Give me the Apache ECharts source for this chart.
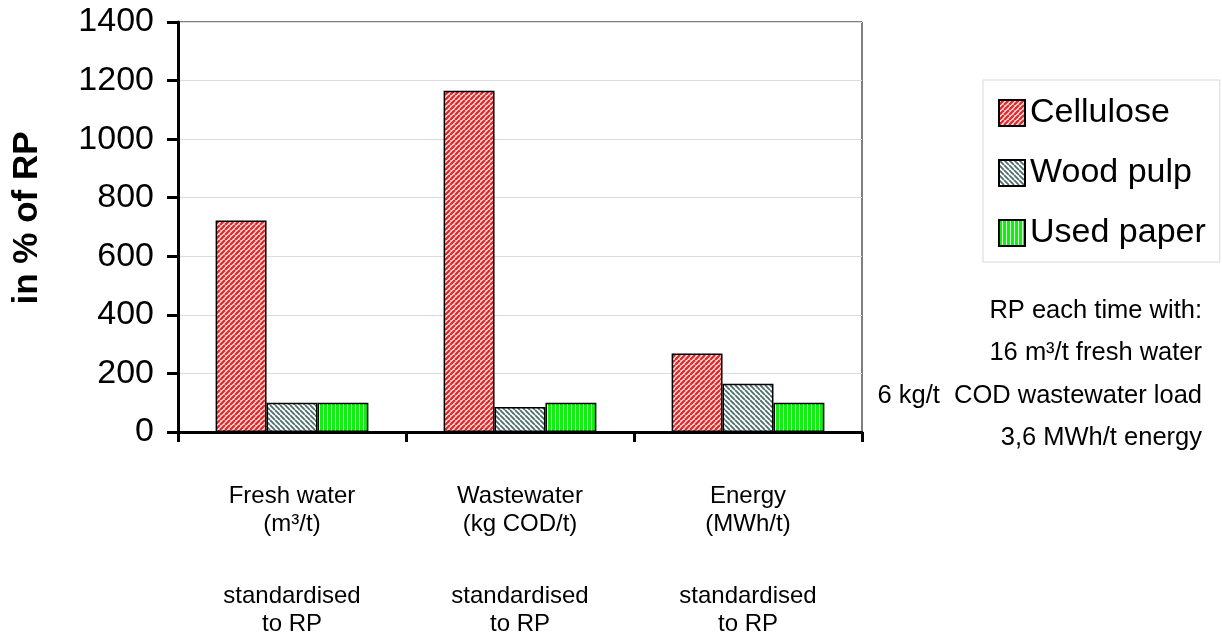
<!DOCTYPE html>
<html>
<head>
<meta charset="utf-8">
<script src="https://cdn.jsdelivr.net/npm/echarts@6/dist/echarts.min.js"></script>
<style>
html,body{margin:0;padding:0;background:#fff;}
#chart{width:1222px;height:639px;}
</style>
</head>
<body>
<div id="chart"></div>
<script>
const categories = [
  "Fresh water\n(m³/t)\n\nstandardised\nto RP",
  "Wastewater\n(kg COD/t)\n\nstandardised\nto RP",
  "Energy\n(MWh/t)\n\nstandardised\nto RP"
];
const seriesNames = ["Cellulose", "Wood pulp", "Used paper"];
const cellulose = [722, 1165, 268];
const woodPulp = [100, 85, 165];
const usedPaper = [100, 100, 100];
const yTicks = { min: 0, max: 1400, interval: 200 };
const notes = [
  "RP each time with:",
  "16 m³/t fresh water",
  "6 kg/t  COD wastewater load",
  "3,6 MWh/t energy"
];

const FONT = "'Liberation Sans', Arial, sans-serif";

function diagPattern(fg, bg, size, lw, dir) {
  const c = document.createElement('canvas');
  c.width = size; c.height = size;
  const g = c.getContext('2d');
  g.fillStyle = bg; g.fillRect(0, 0, size, size);
  g.strokeStyle = fg; g.lineWidth = lw;
  g.beginPath();
  for (let k = -1; k <= 1; k++) {
    if (dir > 0) {
      g.moveTo(k * size, size); g.lineTo(k * size + size, 0);
    } else {
      g.moveTo(k * size, 0); g.lineTo(k * size + size, size);
    }
  }
  g.stroke();
  return c;
}
function vertPattern(fg, bg, size, lw) {
  const c = document.createElement('canvas');
  c.width = size; c.height = size;
  const g = c.getContext('2d');
  g.fillStyle = fg; g.fillRect(0, 0, size, size);
  g.fillStyle = bg; g.fillRect(size - lw, 0, lw, size);
  return c;
}

const patterns = [
  { image: diagPattern('#e02626', '#ffdcdc', 5, 2.2, 1), repeat: 'repeat' },
  { image: diagPattern('#4e6e6c', '#ffffff', 5, 1.8, -1), repeat: 'repeat' },
  { image: vertPattern('#10f010', '#d8ffd8', 4, 1), repeat: 'repeat' }
];
const dataSets = [cellulose, woodPulp, usedPaper];

const chart = echarts.init(document.getElementById('chart'), null, { renderer: 'canvas' });

const option = {
  backgroundColor: '#ffffff',
  animation: false,
  grid: {
    left: 178, top: 22, right: 360, bottom: 207,
    show: true, borderColor: '#000', borderWidth: 1, backgroundColor: 'transparent'
  },
  legend: {
    orient: 'vertical',
    left: 983, top: 80,
    padding: [13, 14, 9, 15],
    itemWidth: 26, itemHeight: 26, itemGap: 20, itemTextGap: 7,
    borderColor: '#d8d8d8', borderWidth: 1,
    icon: 'rect',
    textStyle: { fontFamily: FONT, fontSize: 34, color: '#000', lineHeight: 40 },
    data: seriesNames
  },
  xAxis: {
    type: 'category',
    data: categories,
    axisLine: { lineStyle: { color: '#000', width: 3 } },
    axisTick: { show: true, length: 10, lineStyle: { color: '#000', width: 3 } },
    axisLabel: {
      interval: 0, margin: 50,
      color: '#000', align: 'center',
      formatter: function (v) {
        return v.split('\n').map(l => l === '' ? '{g| }' : '{a|' + l + '}').join('\n');
      },
      rich: {
        a: { fontFamily: FONT, fontSize: 24, lineHeight: 28, color: '#000' },
        g: { fontFamily: FONT, fontSize: 10, lineHeight: 44 }
      }
    },
    splitLine: { show: false }
  },
  yAxis: {
    type: 'value',
    min: yTicks.min, max: yTicks.max, interval: yTicks.interval,
    name: 'in % of RP',
    nameLocation: 'middle',
    nameRotate: 90,
    nameGap: 133,
    nameTextStyle: { fontFamily: FONT, fontWeight: 'bold', fontSize: 35, color: '#000', padding: [0, 0, 0, 18] },
    axisLine: { show: true, lineStyle: { color: '#000', width: 3 } },
    axisTick: { show: true, length: 11, lineStyle: { color: '#000', width: 3 } },
    axisLabel: { margin: 24, fontFamily: FONT, fontSize: 34, color: '#000', formatter: v => String(v) },
    splitLine: { show: true, lineStyle: { color: '#dcdcdc', width: 1 } }
  },
  graphic: notes.map((t, i) => ({
    type: 'text',
    right: 20,
    top: 298 + i * 42.3,
    style: { text: t, fontFamily: FONT, fontSize: 25.5, fill: '#000', textAlign: 'right' }
  })),
  series: seriesNames.map((n, i) => ({
    name: n,
    type: 'bar',
    data: dataSets[i],
    barGap: '0%',
    barCategoryGap: '33%',
    itemStyle: { color: patterns[i], borderColor: '#000', borderWidth: 1.5 }
  }))
};
chart.setOption(option);
</script>
</body>
</html>
